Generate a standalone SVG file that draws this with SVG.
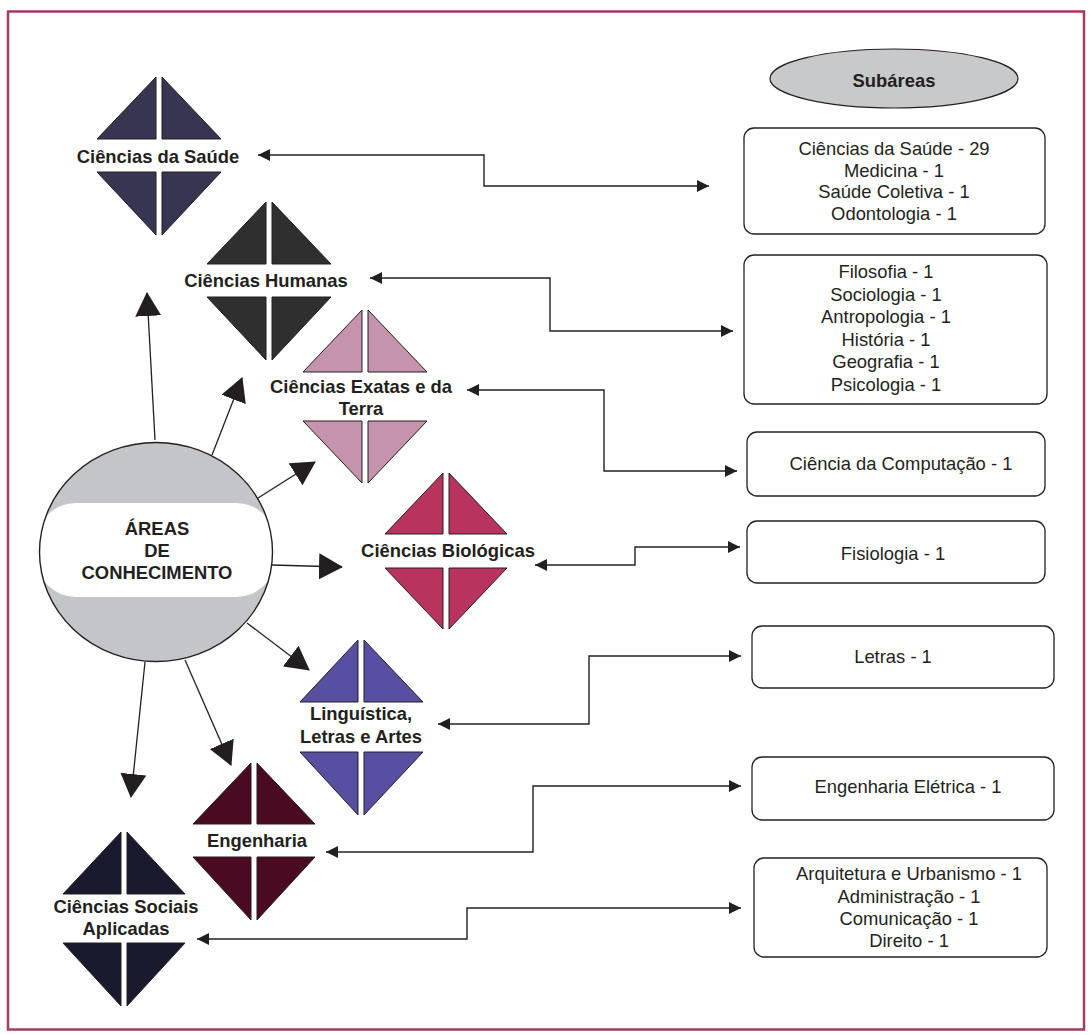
<svg xmlns="http://www.w3.org/2000/svg" width="1091" height="1035" viewBox="0 0 1091 1035">
<style>
.lbl{font-family:"Liberation Sans",Arial,sans-serif;font-weight:bold;font-size:18.4px;fill:#231f20;text-anchor:middle}
.txt{font-family:"Liberation Sans",Arial,sans-serif;font-size:18.4px;fill:#231f20;text-anchor:middle}
.box{fill:#fff;stroke:#231f20;stroke-width:1.3}
.tri{stroke:#231f20;stroke-width:1}
.con{fill:none;stroke:#231f20;stroke-width:1.4}
.big{fill:none;stroke:#231f20;stroke-width:1.3}
</style>
<defs>
<marker id="sa" markerUnits="userSpaceOnUse" markerWidth="12" markerHeight="12" refX="12" refY="6" orient="auto-start-reverse"><path d="M0,0 L12,6 L0,12 z" fill="#231f20"/></marker>
<marker id="ba" markerUnits="userSpaceOnUse" markerWidth="24" markerHeight="26" refX="23" refY="13" orient="auto"><path d="M0,0 L24,13 L0,26 z" fill="#231f20"/></marker>
<clipPath id="cc"><ellipse cx="156" cy="552" rx="116.5" ry="109.5"/></clipPath>
</defs>
<rect width="1091" height="1035" fill="#fff"/>
<rect x="8" y="11.5" width="1076" height="1018" fill="none" stroke="#a33a62" stroke-width="2.5"/>

<g id="connectors">
<path class="con" d="M258,155 H484 V186 H709" marker-start="url(#sa)" marker-end="url(#sa)"/>
<path class="con" d="M370,278 H550 V331 H733" marker-start="url(#sa)" marker-end="url(#sa)"/>
<path class="con" d="M467,390 H604 V471 H737" marker-start="url(#sa)" marker-end="url(#sa)"/>
<path class="con" d="M535,565 H635 V547 H740" marker-start="url(#sa)" marker-end="url(#sa)"/>
<path class="con" d="M438,724 H589 V656 H741" marker-start="url(#sa)" marker-end="url(#sa)"/>
<path class="con" d="M326,852 H533 V786 H741" marker-start="url(#sa)" marker-end="url(#sa)"/>
<path class="con" d="M197,939 H467 V908 H741" marker-start="url(#sa)" marker-end="url(#sa)"/>
<path class="big" d="M155,440 L147,293" marker-end="url(#ba)"/>
<path class="big" d="M212,455 L242,378" marker-end="url(#ba)"/>
<path class="big" d="M258,498 L315,462" marker-end="url(#ba)"/>
<path class="big" d="M272,565 L342,567" marker-end="url(#ba)"/>
<path class="big" d="M247,623 L309,670" marker-end="url(#ba)"/>
<path class="big" d="M185,660 L231,765" marker-end="url(#ba)"/>
<path class="big" d="M145,662 L131,797" marker-end="url(#ba)"/>
</g>

<g id="areas">
<ellipse cx="156" cy="552" rx="116.5" ry="109.5" fill="#c4c5c8"/>
<rect x="36" y="503" width="240" height="94" rx="40" ry="40" fill="#fff" clip-path="url(#cc)"/>
<ellipse cx="156" cy="552" rx="116.5" ry="109.5" fill="none" stroke="#231f20" stroke-width="1.4"/>
<text class="lbl" x="157" y="535">ÁREAS</text>
<text class="lbl" x="157" y="557">DE</text>
<text class="lbl" x="157" y="579">CONHECIMENTO</text>
</g>

<g id="saude" fill="#383552">
<path class="tri" d="M156,77 V139 H97 Z M162,77 V139 H221 Z M156,172 V235 L97,172 Z M162,172 V235 L221,172 Z"/>
<text class="lbl" x="158" y="163">Ciências da Saúde</text>
</g>
<g id="humanas" fill="#2f2f2f">
<path class="tri" d="M266,202 V264 H207 Z M272,202 V264 H331 Z M266,297 V360 L207,297 Z M272,297 V360 L331,297 Z"/>
<text class="lbl" x="266" y="287">Ciências Humanas</text>
</g>
<g id="exatas" fill="#c693ae">
<path class="tri" d="M362,310 V372 H303 Z M368,310 V372 H427 Z M362,421 V483 L303,421 Z M368,421 V483 L427,421 Z"/>
<text class="lbl" x="361" y="393">Ciências Exatas e da</text>
<text class="lbl" x="361" y="415">Terra</text>
</g>
<g id="biologicas" fill="#b8345e">
<path class="tri" d="M443,473 V534 H385 Z M449,473 V534 H507 Z M443,568 V629 L385,568 Z M449,568 V629 L507,568 Z"/>
<text class="lbl" x="448" y="557">Ciências Biológicas</text>
</g>
<g id="linguistica" fill="#5750a2">
<path class="tri" d="M358,640 V702 H300 Z M364,640 V702 H423 Z M358,752 V815 L300,752 Z M364,752 V815 L423,752 Z"/>
<text class="lbl" x="361" y="720">Linguística,</text>
<text class="lbl" x="361" y="743">Letras e Artes</text>
</g>
<g id="engenharia" fill="#4a0a22">
<path class="tri" d="M251,763 V824 H193 Z M257,763 V824 H315 Z M251,857 V920 L193,857 Z M257,857 V920 L315,857 Z"/>
<text class="lbl" x="257" y="847">Engenharia</text>
</g>
<g id="sociais" fill="#1a1a2e">
<path class="tri" d="M121,832 V894 H63 Z M127,832 V894 H185 Z M121,943 V1006 L63,943 Z M127,943 V1006 L185,943 Z"/>
<text class="lbl" x="126" y="913">Ciências Sociais</text>
<text class="lbl" x="126" y="935">Aplicadas</text>
</g>

<g id="subareas">
<ellipse cx="894" cy="78.5" rx="124" ry="29.5" fill="#c8c9cb" stroke="#231f20" stroke-width="1.2"/>
<text class="lbl" x="894" y="87">Subáreas</text>
</g>
<g id="box-saude">
<rect class="box" x="744" y="128" width="301" height="106" rx="10"/>
<text class="txt" x="894" y="155">Ciências da Saúde - 29</text>
<text class="txt" x="894" y="177">Medicina - 1</text>
<text class="txt" x="894" y="198">Saúde Coletiva - 1</text>
<text class="txt" x="894" y="220">Odontologia - 1</text>
</g>
<g id="box-humanas">
<rect class="box" x="744" y="255" width="303" height="149" rx="10"/>
<text class="txt" x="886" y="278">Filosofia - 1</text>
<text class="txt" x="886" y="301">Sociologia - 1</text>
<text class="txt" x="886" y="323">Antropologia - 1</text>
<text class="txt" x="886" y="346">História - 1</text>
<text class="txt" x="886" y="368">Geografia - 1</text>
<text class="txt" x="886" y="391">Psicologia - 1</text>
</g>
<g id="box-exatas">
<rect class="box" x="747" y="432" width="298" height="64" rx="10"/>
<text class="txt" x="901" y="470">Ciência da Computação - 1</text>
</g>
<g id="box-biologicas">
<rect class="box" x="747" y="521" width="298" height="62" rx="10"/>
<text class="txt" x="893" y="560">Fisiologia - 1</text>
</g>
<g id="box-linguistica">
<rect class="box" x="752" y="626" width="302" height="62" rx="10"/>
<text class="txt" x="893" y="663">Letras - 1</text>
</g>
<g id="box-engenharia">
<rect class="box" x="752" y="757" width="302" height="63" rx="10"/>
<text class="txt" x="908" y="793">Engenharia Elétrica - 1</text>
</g>
<g id="box-sociais">
<rect class="box" x="754" y="858" width="293" height="99" rx="10"/>
<text class="txt" x="909" y="880">Arquitetura e Urbanismo - 1</text>
<text class="txt" x="909" y="903">Administração - 1</text>
<text class="txt" x="909" y="925">Comunicação - 1</text>
<text class="txt" x="909" y="947">Direito - 1</text>
</g>
</svg>
